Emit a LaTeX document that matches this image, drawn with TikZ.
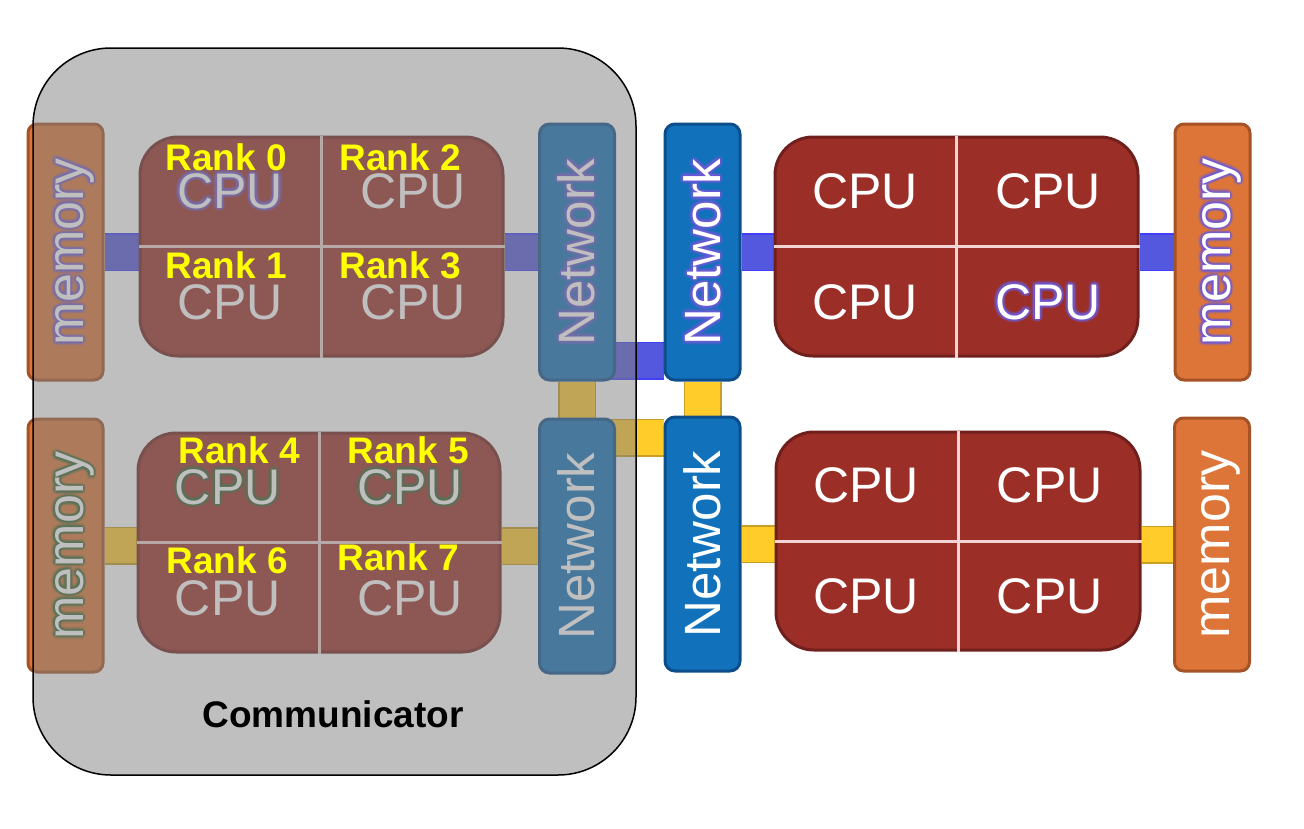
\documentclass[tikz,border=0pt]{standalone}
\usepackage{fontspec}
\setmainfont{Liberation Sans}
\usetikzlibrary{calc}
\pgfdeclarelayer{bars}
\pgfdeclarelayer{over}
\pgfsetlayers{bars,main,over}
\definecolor{memfill}{RGB}{221,117,56}
\definecolor{memdraw}{RGB}{165,82,38}
\definecolor{netfill}{RGB}{17,113,186}
\definecolor{netdraw}{RGB}{12,78,140}
\definecolor{cpufill}{RGB}{156,46,40}
\definecolor{cpudraw}{RGB}{112,32,28}
\definecolor{divline}{RGB}{242,212,212}
\definecolor{bluefill}{RGB}{84,88,222}
\definecolor{bluedraw}{RGB}{64,64,250}
\definecolor{yelfill}{RGB}{255,204,42}
\definecolor{yeldraw}{RGB}{200,158,36}
\definecolor{commgray}{RGB}{128,128,128}
\definecolor{rankyel}{RGB}{255,255,0}
\definecolor{glowpurple}{RGB}{110,90,215}
\definecolor{glowgreen}{RGB}{45,100,45}
\newcommand\gcopy[3]{\rlap{\kern#1\raise#2\hbox{#3}}}
\newcommand\gring[3]{% #1 radius, #2 diagonal offset, #3 text
  \gcopy{#1}{0pt}{#3}\gcopy{-#1}{0pt}{#3}\gcopy{0pt}{#1}{#3}\gcopy{0pt}{-#1}{#3}%
  \gcopy{#2}{#2}{#3}\gcopy{-#2}{#2}{#3}\gcopy{#2}{-#2}{#3}\gcopy{-#2}{-#2}{#3}}
\newcommand\myglow[2]{\leavevmode
  \rlap{\pgfsetfillopacity{0.22}\color{#1}\gring{3.6pt}{2.55pt}{#2}}%
  \rlap{\pgfsetfillopacity{0.45}\color{#1}\gring{2pt}{1.4pt}{#2}}%
  \pgfsetfillopacity{1}#2}
\newcommand\sidetext[1]{\rotatebox{90}{\raisebox{-17.5pt}[0pt][0pt]{#1}}}
\tikzset{
  membox/.style={draw=memdraw, fill=memfill, line width=3pt, rounded corners=9pt,
    minimum width=75pt, minimum height=256pt, inner sep=0pt, text=white,
    font=\fontsize{52}{60}\selectfont},
  netbox/.style={draw=netdraw, fill=netfill, line width=3pt, rounded corners=10pt,
    minimum width=75pt, minimum height=256pt, inner sep=0pt, text=white,
    font=\fontsize{51}{60}\selectfont},
  cpubox/.style={draw=cpudraw, fill=cpufill, line width=3pt, rounded corners=38pt,
    minimum width=363pt, minimum height=219pt, inner sep=0pt},
  cputext/.style={text=white, font=\fontsize{50}{60}\selectfont, inner sep=0pt},
  ranklabel/.style={text=rankyel, font=\bfseries\fontsize{37}{44}\selectfont, inner sep=0pt},
  bluebar/.style={draw=bluedraw, double=bluefill, line width=1.5pt, double distance=35pt},
  yelbar/.style={draw=yeldraw, double=yelfill, line width=1.5pt, double distance=35pt},
  divider/.style={draw=divline, line width=3pt},
  commbox/.style={draw=black, line width=1.5pt, fill=commgray, fill opacity=0.5,
    rounded corners=78pt, minimum width=603pt, minimum height=727pt, inner sep=0pt},
  commtext/.style={text=black, font=\bfseries\fontsize{37}{44}\selectfont, inner sep=0pt},
}
\begin{document}
\begin{tikzpicture}[x=1pt, y=-1pt]
\useasboundingbox (0,0) rectangle (1304,828);

% ---------- boxes ----------
\path
  (65.5,252)  node[membox] (m1) {\sidetext{\myglow{glowpurple}{memory}}}
  (321.5,246.5) node[cpubox] (c1) {}
  (577,252)   node[netbox] (n1) {\sidetext{\myglow{glowpurple}{Network}}}
  (702.5,252) node[netbox] (n2) {\sidetext{\myglow{glowpurple}{Network}}}
  (956.5,246.5) node[cpubox] (c2) {}
  (1212.5,252) node[membox] (m2) {\sidetext{\myglow{glowpurple}{memory}}}
  (65.5,545.5) node[membox, minimum height=253pt] (m3) {\sidetext{\myglow{glowgreen}{memory}}}
  (319,542.5) node[cpubox, minimum width=362pt] (c3) {}
  (577,546)   node[netbox, minimum height=254pt] (n3) {\sidetext{Network}}
  (702.5,544) node[netbox, minimum height=254pt] (n4) {\sidetext{Network}}
  (958,541)   node[cpubox, minimum width=364pt, minimum height=218pt] (c4) {}
  (1212,544.5) node[membox, minimum height=253pt] (m4) {\sidetext{memory}};

% ---------- dividers ----------
\foreach \c in {c1,c2,c3,c4}{
  \draw[divider] (\c.north) -- (\c.south);
  \draw[divider] (\c.west) -- (\c.east);
}

% ---------- CPU labels ----------
\node[cputext] (c1a) at ($(c1.center)!0.5!(c1.north west)$) {\myglow{glowpurple}{CPU}};
\node[cputext] (c1b) at ($(c1.center)!0.5!(c1.north east)$) {CPU};
\node[cputext] (c1c) at ($(c1.center)!0.5!(c1.south west)$) {CPU};
\node[cputext] (c1d) at ($(c1.center)!0.5!(c1.south east)$) {CPU};
\node[cputext] (c2a) at ($(c2.center)!0.5!(c2.north west)$) {CPU};
\node[cputext] (c2b) at ($(c2.center)!0.5!(c2.north east)$) {CPU};
\node[cputext] (c2c) at ($(c2.center)!0.5!(c2.south west)$) {CPU};
\node[cputext] (c2d) at ($(c2.center)!0.5!(c2.south east)$) {\myglow{glowpurple}{CPU}};
\node[cputext] (c3a) at ($(c3.center)!0.5!(c3.north west)$) {\myglow{glowgreen}{CPU}};
\node[cputext] (c3b) at ($(c3.center)!0.5!(c3.north east)$) {\myglow{glowgreen}{CPU}};
\node[cputext] (c3c) at ($(c3.center)!0.5!(c3.south west)$) {CPU};
\node[cputext] (c3d) at ($(c3.center)!0.5!(c3.south east)$) {CPU};
\node[cputext] (c4a) at ($(c4.center)!0.5!(c4.north west)$) {CPU};
\node[cputext] (c4b) at ($(c4.center)!0.5!(c4.north east)$) {CPU};
\node[cputext] (c4c) at ($(c4.center)!0.5!(c4.south west)$) {CPU};
\node[cputext] (c4d) at ($(c4.center)!0.5!(c4.south east)$) {CPU};

% ---------- connectors (behind the boxes) ----------
\coordinate (bA) at ($(n1.south east)+(-6,-21)$);
\coordinate (yA) at ($(n3.north east)+(-6,20)$);
\begin{pgfonlayer}{bars}
  \draw[bluebar] (m1.east) -- (m1.east -| c1.west);
  \draw[bluebar] (n1.west) -- (n1.west -| c1.east);
  \draw[bluebar] (n2.east) -- (n2.east -| c2.west);
  \draw[bluebar] (m2.west) -- (m2.west -| c2.east);
  \draw[bluebar] (bA) -- (bA -| n2.west);
  \draw[yelbar] (n1.south) -- (n3.north);
  \draw[yelbar] (n2.south) -- (n4.north);
  \draw[yelbar] (yA) -- (yA -| n4.west);
  \draw[yelbar] (m3.east) -- (m3.east -| c3.west);
  \draw[yelbar] (n3.west) -- (n3.west -| c3.east);
  \draw[yelbar] (n4.east) -- (n4.east -| c4.west);
  \draw[yelbar] (m4.west) -- (m4.west -| c4.east);
\end{pgfonlayer}

% ---------- communicator overlay and rank labels ----------
\begin{pgfonlayer}{over}
  \node[commbox] (comm) at (334.5,411.5) {};
  \node[commtext] (commlbl) at (333,714) {Communicator};
  \node[ranklabel] (r0) at (226,157) {Rank 0};
  \node[ranklabel] (r2) at (400,157) {Rank 2};
  \node[ranklabel] (r1) at (226,265) {Rank 1};
  \node[ranklabel] (r3) at (400,265) {Rank 3};
  \node[ranklabel] (r4) at (239,450) {Rank 4};
  \node[ranklabel] (r5) at (408,450) {Rank 5};
  \node[ranklabel] (r6) at (227,560) {Rank 6};
  \node[ranklabel] (r7) at (398,557) {Rank 7};
\end{pgfonlayer}
\end{tikzpicture}
\end{document}
